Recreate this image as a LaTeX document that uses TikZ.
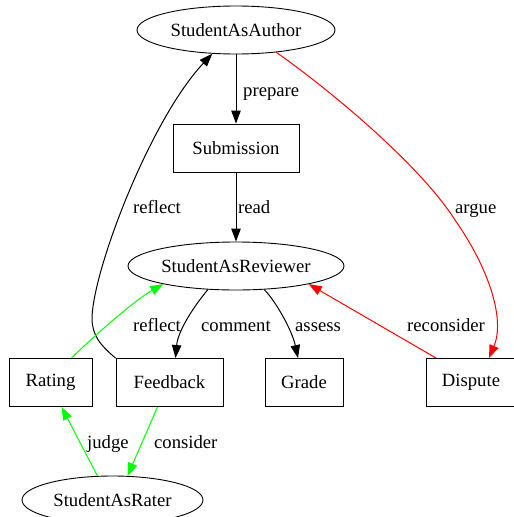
\documentclass[tikz,border=0pt]{standalone}
\usepackage{fontspec}
\setmainfont{Liberation Serif}
\usetikzlibrary{arrows.meta,shapes.geometric}
\definecolor{edgegreen}{RGB}{0,255,0}
\definecolor{edgered}{RGB}{255,0,0}
\newcommand{\gvfont}{\fontsize{18.67}{22}\selectfont}

\begin{document}
\begin{tikzpicture}[x=1pt, y=-1pt,
  role/.style={ellipse, draw, line width=0.9pt, inner sep=0pt, minimum height=48pt, font=\gvfont},
  item/.style={rectangle, draw, line width=0.9pt, inner sep=0pt, minimum height=48pt, font=\gvfont},
  lbl/.style={anchor=base west, inner sep=0pt, font=\gvfont},
  arr/.style={-{Triangle[length=13pt,width=9.5pt]}, line width=1pt}
]
\useasboundingbox (0,0) rectangle (514,517);

\node[role, minimum width=198pt] (auth) at (236,30) {StudentAsAuthor};
\node[item, minimum width=126pt] (sub) at (236,148) {Submission};
\node[role, minimum width=216pt] (rev) at (236,266) {StudentAsReviewer};
\node[item, minimum width=83pt] (rate) at (50.5,382.5) {Rating};
\node[item, minimum width=107pt] (fb) at (169.5,382.5) {Feedback};
\node[item, minimum width=78pt] (grade) at (304,382.5) {Grade};
\node[item, minimum width=89pt] (disp) at (471,382.5) {Dispute};
\node[role, minimum width=181pt] (rater) at (112.5,500) {StudentAsRater};

% black edges
\draw[arr] (auth) -- (sub);
\draw[arr] (sub) -- (rev);
\draw[arr] (fb.north west) .. controls (100,345) and (92,335) .. (92,318)
  .. controls (93,270) and (150,120) .. (auth.225);
\draw[arr] (rev.220) .. controls (195,305) and (178,330) .. ([xshift=6pt]fb.north);
\draw[arr] (rev.320) .. controls (275,300) and (292,330) .. ([xshift=-6pt]grade.north);

% red edges
\draw[arr, edgered] (auth.331) .. controls (330,90) and (420,165) .. (455,220)
  .. controls (490,270) and (505,320) .. ([xshift=18pt]disp.north);
\draw[arr, edgered] ([xshift=10pt]disp.north west) -- (rev.346);

% green edges
\draw[arr, edgegreen] ([xshift=21pt]rate.north) .. controls (95,335) and (135,300) .. (rev.194);
\draw[arr, edgegreen] (rater.122) -- ([xshift=11pt]rate.south);
\draw[arr, edgegreen] ([xshift=-12pt]fb.south) -- (rater.58);

% edge labels
\node[lbl] (lprepare) at (243,96) {prepare};
\node[lbl] (lread) at (238,213) {read};
\node[lbl] (lreflecta) at (133,213) {reflect};
\node[lbl] (largue) at (455,213) {argue};
\node[lbl] (lreflectb) at (133,331) {reflect};
\node[lbl] (lcomment) at (201,331) {comment};
\node[lbl] (lassess) at (295,331) {assess};
\node[lbl] (lreconsider) at (407,331) {reconsider};
\node[lbl] (ljudge) at (87,448) {judge};
\node[lbl] (lconsider) at (154,448) {consider};
\end{tikzpicture}
\end{document}
